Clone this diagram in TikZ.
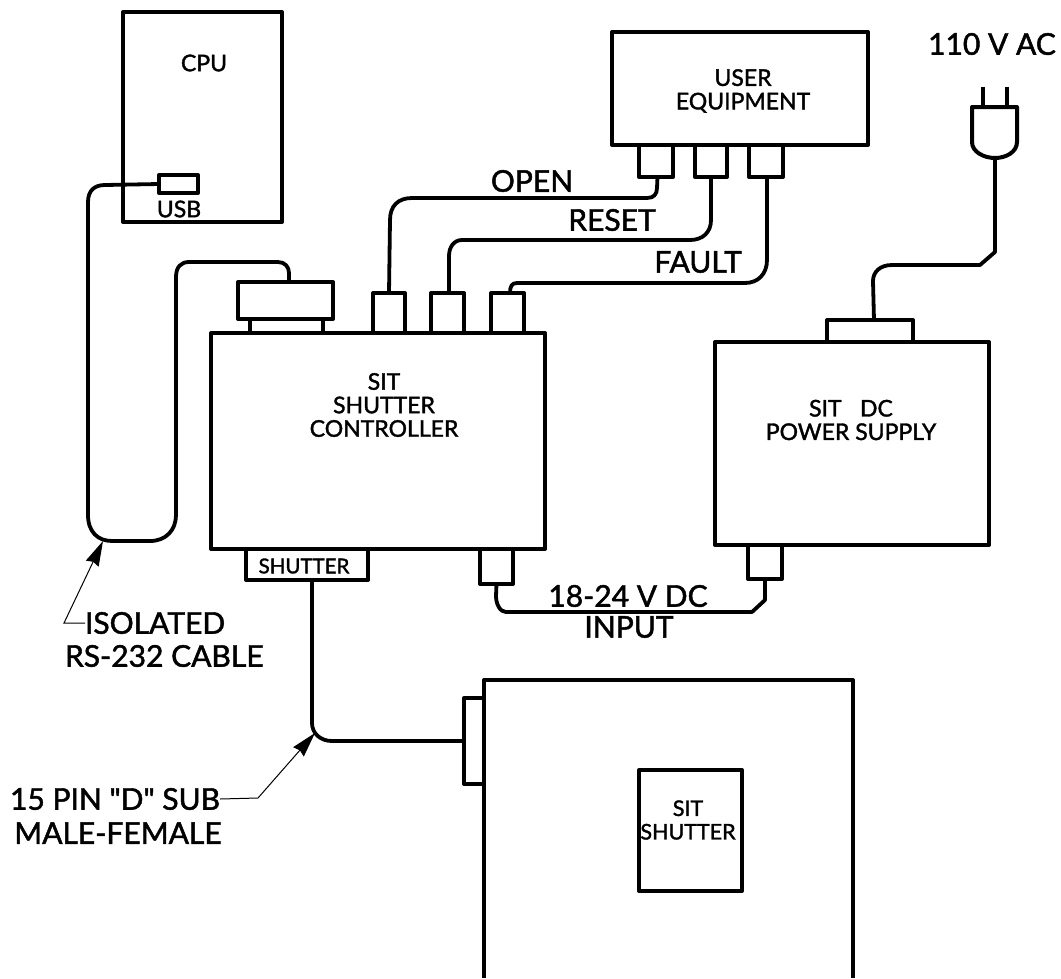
\documentclass[tikz,border=0pt]{standalone}
\usepackage{fontspec}
\setmainfont{Lato}[Ligatures=TeXOff,FakeBold=1.6]
\usetikzlibrary{arrows.meta}
\tikzset{
  box/.style={draw=black,line width=4pt,fill=white,rectangle,inner sep=0pt,outer sep=0pt,anchor=north west,line join=round},
  wire/.style={draw=black,line width=3.8pt,line join=round},
  leader/.style={draw=black,line width=1pt,-{Stealth[length=25pt,width=14pt,inset=2pt]}},
  big/.style={inner sep=0pt,outer sep=0pt,align=center,font=\fontsize{30}{33}\selectfont},
  mid/.style={inner sep=0pt,outer sep=0pt,align=center,font=\fontsize{23}{23.5}\selectfont},
  tiny/.style={inner sep=0pt,outer sep=0pt,align=center,font=\fontsize{20.5}{22}\selectfont},
}
\begin{document}
\begin{tikzpicture}[x=1pt,y=-1pt]
\useasboundingbox (0,0) rectangle (1061,978);
% CPU
\node[box,minimum width=159pt,minimum height=210pt] (cpu) at (123,12) {};
\node[box,minimum width=39pt,minimum height=18pt] (usb) at (159,175) {};
\node[mid] (cputxt) at (204,63) {CPU};
\node[mid] (usbtxt) at (179,209) {USB};
% Controller
\node[box,minimum width=334pt,minimum height=216pt] (ctrl) at (211,333) {};
\node[box,minimum width=73pt,minimum height=14pt] (neck) at (250,319) {};
\node[box,minimum width=95pt,minimum height=37pt] (dsub) at (238,282) {};
\node[box,minimum width=32pt,minimum height=40pt] (c1) at (373,293) {};
\node[box,minimum width=33pt,minimum height=40pt] (c2) at (431,293) {};
\node[box,minimum width=33pt,minimum height=40pt] (c3) at (491,293) {};
\node[box,minimum width=122pt,minimum height=31pt] (tab) at (246,549) {};
\node[box,minimum width=33pt,minimum height=35pt] (c4) at (480,549) {};
\node[mid,align=center] (ctrltxt) at (384,405) {SIT\\SHUTTER\\CONTROLLER};
\node[tiny] (tabtxt) at (304,566) {SHUTTER};
% User equipment
\node[box,minimum width=256pt,minimum height=113pt] (user) at (612,32) {};
\node[box,minimum width=34pt,minimum height=32pt] (u1) at (639,145) {};
\node[box,minimum width=32pt,minimum height=32pt] (u2) at (695,145) {};
\node[box,minimum width=34pt,minimum height=32pt] (u3) at (749,145) {};
\node[mid] (usertxt) at (743,91) {USER\\EQUIPMENT};
% Power supply
\node[box,minimum width=274pt,minimum height=203pt] (psu) at (715,342) {};
\node[box,minimum width=86pt,minimum height=22pt] (psutop) at (827,320) {};
\node[box,minimum width=34pt,minimum height=34pt] (c5) at (748,545) {};
\node[mid] (psutxt) at (851,420) {SIT\hspace{0.8em}DC\\POWER SUPPLY};
% Shutter
\path[fill=white] (484,680) rectangle (853,978);
\coordinate (shbl) at (484,978);
\coordinate (shtl) at (484,680);
\coordinate (shtr) at (853,680);
\coordinate (shbr) at (853,978);
\draw[wire,line width=4pt] (shbl) -- (shtl) -- (shtr) -- (shbr);
\node[box,minimum width=20pt,minimum height=86pt] (flange) at (464,698) {};
\node[box,minimum width=103pt,minimum height=121pt] (sit) at (639,770) {};
\node[mid,font=\fontsize{21.5}{23.5}\selectfont] (sittxt) at (688,820) {SIT\\SHUTTER};
% Plug
\coordinate (p1) at (983,87);
\coordinate (p2) at (1007,87);
\coordinate (p1b) at (983,107);
\coordinate (p2b) at (1007,107);
\coordinate (plugb) at (995,158);
\draw[wire] (p1) -- (p1b);
\draw[wire] (p2) -- (p2b);
\draw[wire,line width=4pt] (972,107) -- (1017,107) -- (1017,142) .. controls (1017,152) and (1006,158) .. (plugb) .. controls (984,158) and (972,152) .. (972,142) -- cycle;
% Wires
\draw[wire] (usb.west) -- (105,185) .. controls (95,185) and (88,190) .. (88,202) -- (88,515) .. controls (88,532) and (98,541) .. (112,541) -- (150,541) .. controls (166,541) and (176,530) .. (176,515) -- (176,277) .. controls (176,267) and (181,262) .. (189,262) -- (278,262) .. controls (285,262) and (289,267) .. (289,273) -- ([xshift=3.5pt]dsub.north);
\draw[wire] ([xshift=1.5pt]u1.south) -- (657,188) .. controls (657,194) and (654,198) .. (647,198) -- (412,198) .. controls (398,198) and (390,206) .. (390,220) -- (c1.north);
\draw[wire] (u2.south) -- (711,220) .. controls (711,232) and (703,240) .. (690,240) -- (462,240) .. controls (454,240) and (449,247) .. (449,256) -- ([xshift=1.5pt]c2.north);
\draw[wire] ([xshift=1pt]u3.south) -- (767,260) .. controls (767,274) and (758,283) .. (745,283) -- (517,283) .. controls (512,283) and (510,286) .. ([xshift=2.5pt]c3.north);
\draw[wire] ([xshift=4pt]psutop.north) -- (873,281) .. controls (873,272) and (880,265) .. (892,265) -- (980,265) -- (995,252) -- (plugb);
\draw[wire] (c4.south) -- (496,596) .. controls (496,604) and (500,612) .. (506,612) -- (752,612) -- (765,600) -- (c5.south);
\draw[wire] ([xshift=5pt]tab.south) -- (312,723) .. controls (312,733) and (320,741) .. (332,741) -- (flange.west);
% Cable labels
\node[big] (open) at (532,181) {OPEN};
\node[big] (reset) at (612,220) {RESET};
\node[big] (fault) at (698,262) {FAULT};
\node[big] (ac) at (992,44) {110 V AC};
\node[big] (dc) at (628,596) {18-24 V DC};
\node[big] (input) at (629,627) {INPUT};
\node[big,anchor=west] (iso) at (85,623) {ISOLATED};
\node[big,anchor=west] (rs) at (65,656) {RS-232 CABLE};
\node[big,anchor=east] (pin) at (220,799) {15 PIN "D" SUB};
\node[big] (male) at (118,833) {MALE-FEMALE};
% Leaders
\coordinate (isoelbow) at (64,623);
\coordinate (isotip) at (103,541);
\coordinate (pinelbow) at (258,798);
\coordinate (pintip) at (315,733);
\draw[leader] (iso.west) -- (isoelbow) -- (isotip);
\draw[leader] (pin.east) -- (pinelbow) -- (pintip);
\end{tikzpicture}
\end{document}
